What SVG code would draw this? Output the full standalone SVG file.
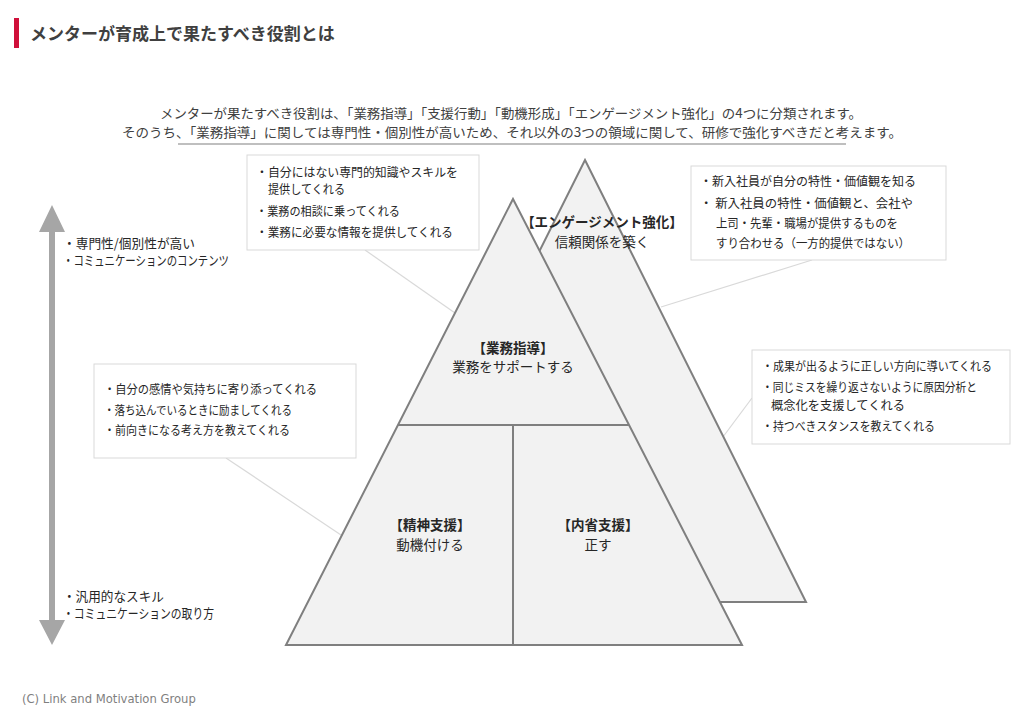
<svg xmlns="http://www.w3.org/2000/svg" width="1023" height="709" viewBox="0 0 1023 709">
<style>
text{font-family:"Noto Sans CJK JP","Noto Sans",sans-serif;fill:#262626}
.t12{font-size:12px}
.ax{font-size:13px}
.hd{font-size:13px;fill:#404040}
.pb{font-size:13.5px;font-weight:bold;text-anchor:middle}
.pr{font-size:13.5px;text-anchor:middle}
.box{fill:#ffffff;stroke:#d9d9d9;stroke-width:1}
.tri{fill:#f2f2f2;stroke:#7f7f7f;stroke-width:2;stroke-linejoin:miter}
.conn{stroke:#d9d9d9;stroke-width:1.2;fill:none}
</style>
<rect width="1023" height="709" fill="#ffffff"/>
<g id="title">
<rect x="14" y="18" width="5" height="30" fill="#d0103a"/>
<text x="30" y="40" style="font-size:17px;font-weight:bold;fill:#404040">メンターが育成上で果たすべき役割とは</text>
</g>
<g id="header">
<text class="hd" x="511" y="118" text-anchor="middle" textLength="702" lengthAdjust="spacingAndGlyphs">メンターが果たすべき役割は、「業務指導」「支援行動」「動機形成」「エンゲージメント強化」の4つに分類されます。</text>
<text class="hd" x="512" y="137" text-anchor="middle" textLength="780" lengthAdjust="spacingAndGlyphs">そのうち、「業務指導」に関しては専門性・個別性が高いため、それ以外の3つの領域に関して、研修で強化すべきだと考えます。</text>
<line x1="178" y1="144" x2="846" y2="144" stroke="#bfbfbf" stroke-width="2"/>
</g>
<g id="axis">
<polygon points="52,205 65,232 55,232 55,620 65,620 52,645 39,620 49,620 49,232 39,232" fill="#a6a6a6"/>
<text class="ax" x="63" y="248" textLength="132" lengthAdjust="spacingAndGlyphs">・専門性/個別性が高い</text>
<text class="ax" x="63" y="265" textLength="166" lengthAdjust="spacingAndGlyphs">・コミュニケーションのコンテンツ</text>
<text class="ax" x="63" y="601" textLength="101" lengthAdjust="spacingAndGlyphs">・汎用的なスキル</text>
<text class="ax" x="63" y="618" textLength="151" lengthAdjust="spacingAndGlyphs">・コミュニケーションの取り方</text>
</g>
<g id="connectors">
<line class="conn" x1="365" y1="250" x2="455" y2="313"/>
<line class="conn" x1="812" y1="260" x2="661" y2="307"/>
<line class="conn" x1="752" y1="398" x2="670" y2="508"/>
<line class="conn" x1="226" y1="458" x2="341" y2="535"/>
</g>
<g id="engagement">
<polygon class="tri" points="585,160 806,602 364,602"/>
</g>
<g id="pyramid">
<polygon class="tri" points="513,199 742,645 286,645"/>
<line x1="398" y1="425" x2="629" y2="425" stroke="#7f7f7f" stroke-width="2"/>
<line x1="513" y1="425" x2="513" y2="645" stroke="#7f7f7f" stroke-width="2"/>
</g>
<g id="engagement-label">
<text class="pb" x="602" y="227">【エンゲージメント強化】</text>
<text class="pr" x="602" y="247">信頼関係を築く</text>
</g>
<g id="gyomu-label">
<text class="pb" x="513" y="353">【業務指導】</text>
<text class="pr" x="513" y="372">業務をサポートする</text>
</g>
<g id="seishin-label">
<text class="pb" x="430" y="530">【精神支援】</text>
<text class="pr" x="430" y="550">動機付ける</text>
</g>
<g id="naisei-label">
<text class="pb" x="598" y="530">【内省支援】</text>
<text class="pr" x="598" y="550">正す</text>
</g>
<g id="callout-gyomu">
<rect class="box" x="247" y="155" width="232" height="95"/>
<text class="t12" x="256" y="177" textLength="202" lengthAdjust="spacingAndGlyphs">・自分にはない専門的知識やスキルを</text>
<text class="t12" x="268" y="194" textLength="77" lengthAdjust="spacingAndGlyphs">提供してくれる</text>
<text class="t12" x="256" y="216" textLength="144" lengthAdjust="spacingAndGlyphs">・業務の相談に乗ってくれる</text>
<text class="t12" x="256" y="237" textLength="197" lengthAdjust="spacingAndGlyphs">・業務に必要な情報を提供してくれる</text>
</g>
<g id="callout-engagement">
<rect class="box" x="691" y="166" width="255" height="94"/>
<text class="t12" x="700" y="186">・新入社員が自分の特性・価値観を知る</text>
<text class="t12" x="700" y="208" textLength="213" lengthAdjust="spacingAndGlyphs">・ 新入社員の特性・価値観と、会社や</text>
<text class="t12" x="716" y="228" textLength="182" lengthAdjust="spacingAndGlyphs">上司・先輩・職場が提供するものを</text>
<text class="t12" x="716" y="248" textLength="194" lengthAdjust="spacingAndGlyphs">すり合わせる（一方的提供ではない）</text>
</g>
<g id="callout-naisei">
<rect class="box" x="752" y="350" width="258" height="94"/>
<text class="t12" x="762" y="371" textLength="230" lengthAdjust="spacingAndGlyphs">・成果が出るように正しい方向に導いてくれる</text>
<text class="t12" x="762" y="392" textLength="215" lengthAdjust="spacingAndGlyphs">・同じミスを繰り返さないように原因分析と</text>
<text class="t12" x="771" y="410" textLength="134" lengthAdjust="spacingAndGlyphs">概念化を支援してくれる</text>
<text class="t12" x="762" y="431" textLength="173" lengthAdjust="spacingAndGlyphs">・持つべきスタンスを教えてくれる</text>
</g>
<g id="callout-seishin">
<rect class="box" x="94" y="364" width="262" height="94"/>
<text class="t12" x="104" y="394" textLength="213" lengthAdjust="spacingAndGlyphs">・自分の感情や気持ちに寄り添ってくれる</text>
<text class="t12" x="104" y="415" textLength="188" lengthAdjust="spacingAndGlyphs">・落ち込んでいるときに励ましてくれる</text>
<text class="t12" x="104" y="435" textLength="186" lengthAdjust="spacingAndGlyphs">・前向きになる考え方を教えてくれる</text>
</g>
<g id="footer">
<text x="22" y="703" style="font-family:'DejaVu Sans',sans-serif;font-size:11.6px;fill:#7f7f7f">(C) Link and Motivation Group</text>
</g>
</svg>
